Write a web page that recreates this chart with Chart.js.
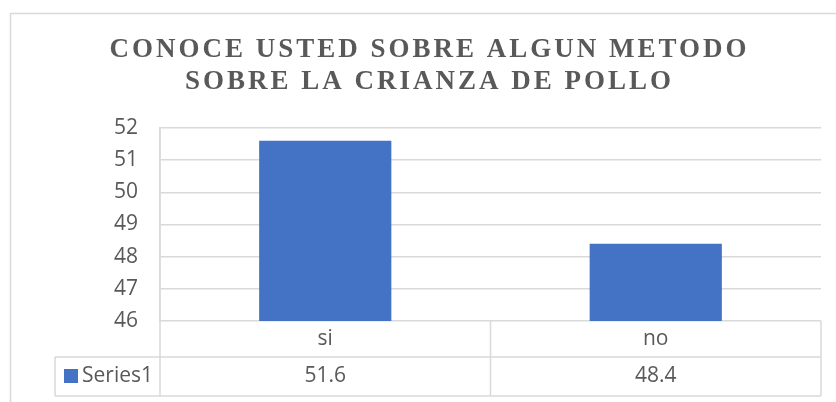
<!DOCTYPE html>
<html>
<head>
<meta charset="utf-8">
<script src="https://cdn.jsdelivr.net/npm/chart.js@4"></script>
<style>
  html, body { margin: 0; padding: 0; background: #fff; }
  #wrap { width: 836px; height: 402px; position: relative; }
</style>
</head>
<body>
<div id="wrap"><canvas id="chartCrianza"></canvas></div>
<script>
// datos
const categorias = ['si', 'no'];
const serie1 = [51.6, 48.4];
const nombreSerie = 'Series1';
const tituloLineas = ['CONOCE USTED SOBRE ALGUN METODO', 'SOBRE LA CRIANZA DE POLLO'];
const ejeMin = 46;
const ejeMax = 52;

const gris = '#d9d9d9';
const texto = '#595959';
const azul = '#4472C4';
const fuente = '"Open Sans", "Liberation Sans", sans-serif';

function linea(ctx, x1, y1, x2, y2) {
    ctx.beginPath();
    ctx.moveTo(x1, y1);
    ctx.lineTo(x2, y2);
    ctx.stroke();
}

// titulo con espaciado entre letras
const tituloPlugin = {
    id: 'tituloEspaciado',
    afterDraw(chart) {
        const ctx = chart.ctx;
        ctx.save();
        ctx.font = 'bold 27px "Liberation Serif", "Times New Roman", serif';
        ctx.letterSpacing = '3px';
        ctx.fillStyle = texto;
        ctx.textAlign = 'center';
        ctx.textBaseline = 'alphabetic';
        tituloLineas.forEach((t, i) => {
            ctx.fillText(t, 428 + 1.5, 57 + i * 32);
        });
        ctx.restore();
    }
};

// marco exterior y tabla de datos
const tablaPlugin = {
    id: 'tablaDatos',
    afterDraw(chart) {
        const ctx = chart.ctx;
        const area = chart.chartArea;
        const x = chart.scales.x;
        const arriba = area.bottom;
        const medio = arriba + 36;
        const abajo = medio + 39;
        const leyendaIzq = 55;

        ctx.save();
        ctx.strokeStyle = gris;
        ctx.lineWidth = 1.5;

        // marco del grafico
        linea(ctx, 10.5, 13, 10.5, chart.height);
        linea(ctx, 10, 13.5, chart.width, 13.5);

        linea(ctx, leyendaIzq, medio, area.right, medio);
        linea(ctx, leyendaIzq, abajo, area.right, abajo);
        linea(ctx, area.left, area.top, area.left, abajo);
        linea(ctx, leyendaIzq, medio, leyendaIzq, abajo);

        for (let i = 0; i < categorias.length; i++) {
            const c = x.getPixelForValue(i);
            const sig = i < categorias.length - 1 ? x.getPixelForValue(i + 1) : null;
            const borde = sig !== null ? (c + sig) / 2 : area.right;
            linea(ctx, borde, arriba, borde, abajo);
        }

        ctx.fillStyle = texto;
        ctx.font = '21px ' + fuente;
        ctx.textAlign = 'center';
        ctx.textBaseline = 'middle';
        categorias.forEach((cat, i) => {
            const c = x.getPixelForValue(i);
            ctx.fillText(cat, c, (arriba + medio) / 2);
            ctx.fillText(String(serie1[i]), c, (medio + abajo) / 2);
        });

        // leyenda
        ctx.fillStyle = azul;
        ctx.fillRect(64, 369, 14, 14);
        ctx.fillStyle = texto;
        ctx.textAlign = 'left';
        ctx.fillText(nombreSerie, 82, (medio + abajo) / 2);
        ctx.restore();
    }
};

const chartCrianza = document.getElementById('chartCrianza');

new Chart(chartCrianza, {
    type: 'bar',
    data: {
        labels: categorias,
        datasets: [{
            label: nombreSerie,
            data: serie1,
            backgroundColor: azul,
            borderWidth: 0,
            categoryPercentage: 0.8,
            barPercentage: 0.5
        }]
    },
    options: {
        responsive: true,
        maintainAspectRatio: false,
        animation: false,
        layout: {
            padding: { top: 128, right: 15, bottom: 81, left: 0 }
        },
        plugins: {
            legend: { display: false },
            title: { display: false },
            tooltip: { enabled: false }
        },
        scales: {
            x: { display: false },
            y: {
                min: ejeMin,
                max: ejeMax,
                ticks: {
                    stepSize: 1,
                    color: texto,
                    font: { family: fuente, size: 21 },
                    padding: 22
                },
                grid: { color: gris, lineWidth: 1.5, drawTicks: false },
                border: { display: true, color: gris, width: 1.5 },
                afterFit(scale) { scale.width = 160; }
            }
        }
    },
    plugins: [tituloPlugin, tablaPlugin]
});
</script>
</body>
</html>
